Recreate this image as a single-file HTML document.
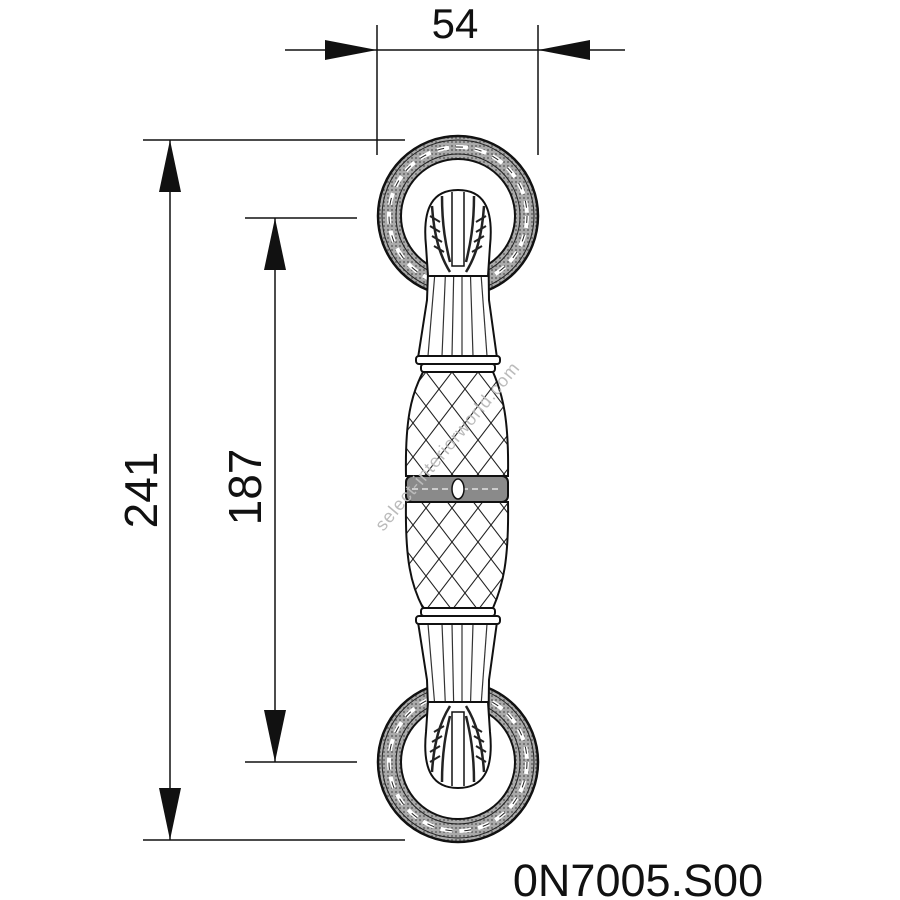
<!DOCTYPE html>
<html><head><style>
html,body{margin:0;padding:0;background:#fff;}
svg{display:block}
text{font-family:"Liberation Sans",Arial,sans-serif;}
</style></head><body>
<svg width="900" height="900" viewBox="0 0 900 900" xmlns="http://www.w3.org/2000/svg">
<defs>
<pattern id="lat" width="26" height="34" patternUnits="userSpaceOnUse" x="400" y="372">
<path d="M0 0 L26 34 M26 0 L0 34" stroke="#222" stroke-width="1.1" fill="none"/>
</pattern>
<pattern id="rope" width="4" height="4" patternUnits="userSpaceOnUse">
<rect width="4" height="4" fill="#aaa"/><circle cx="2" cy="2" r="1" fill="#666"/>
</pattern>
<g id="ros">
<circle r="80" fill="url(#rope)" stroke="#111" stroke-width="2.5"/>
<circle r="76" fill="none" stroke="#222" stroke-width="1"/>
<circle r="69" fill="none" stroke="#fff" stroke-width="4" stroke-dasharray="12 7"/>
<circle r="69" fill="none" stroke="#222" stroke-width="1" stroke-dasharray="7 12"/>
<circle r="62" fill="none" stroke="#222" stroke-width="1"/>
<circle cx="0" cy="0" r="57" fill="#fff" stroke="#111" stroke-width="2"/>
</g>
<g id="leaf">
<path d="M-32 20 C-36 -20,-24 -36,0 -36 C24 -36,36 -20,32 20 L30 50 L-30 50 Z" fill="#fff" stroke="#111" stroke-width="2"/>
<path d="M-6 -34 L-6 40 L6 40 L6 -34" stroke="#111" stroke-width="1.5" fill="#fff"/>
<path d="M-26 -20 C-24 10,-18 30,-8 46 M26 -20 C24 10,18 30,8 46 M-16 -30 C-16 0,-12 20,-8 36 M16 -30 C16 0,12 20,8 36" stroke="#222" stroke-width="2.5" fill="none"/>
<path d="M-28 -10 l10 6 M-28 0 l10 6 M-26 10 l10 6 M-24 20 l10 6 M28 -10 l-10 6 M28 0 l-10 6 M26 10 l-10 6 M24 20 l-10 6" stroke="#222" stroke-width="2"/>
</g>
</defs>

<g stroke="#111" stroke-width="1.5" fill="none">
<line x1="285" y1="50" x2="625" y2="50"/>
<line x1="377" y1="25" x2="377" y2="155"/>
<line x1="538" y1="25" x2="538" y2="155"/>
<line x1="143" y1="140" x2="405" y2="140"/>
<line x1="143" y1="840" x2="405" y2="840"/>
<line x1="170" y1="140" x2="170" y2="840"/>
<line x1="245" y1="218" x2="357" y2="218"/>
<line x1="245" y1="762" x2="357" y2="762"/>
<line x1="275" y1="218" x2="275" y2="762"/>
</g>
<g fill="#111">
<polygon points="377,50 325,40 325,60"/>
<polygon points="538,50 590,40 590,60"/>
<polygon points="170,140 159,192 181,192"/>
<polygon points="170,840 159,788 181,788"/>
<polygon points="275,218 264,270 286,270"/>
<polygon points="275,762 264,710 286,710"/>
</g>
<text x="455" y="38" font-size="42" text-anchor="middle" fill="#111">54</text>
<text transform="translate(157,490) rotate(-90)" font-size="46" text-anchor="middle" fill="#111">241</text>
<text transform="translate(261,487) rotate(-90)" font-size="46" text-anchor="middle" fill="#111">187</text>
<text x="638" y="896" font-size="45" text-anchor="middle" fill="#111">0N7005.S00</text>

<use href="#ros" x="458" y="216"/>
<use href="#ros" x="458" y="762"/>

<path d="M430 220 L488 220 L489 300 L497 358 L418 358 L427 300 Z" fill="#fff" stroke="#111" stroke-width="2"/>
<g stroke="#333" stroke-width="1.2">
<line x1="436" y1="260" x2="428" y2="356"/><line x1="446" y1="260" x2="442" y2="356"/>
<line x1="454" y1="260" x2="452" y2="356"/><line x1="462" y1="260" x2="462" y2="356"/>
<line x1="470" y1="260" x2="473" y2="356"/><line x1="480" y1="260" x2="487" y2="356"/>
</g>
<use href="#leaf" x="458" y="226"/>
<rect x="416" y="356" width="84" height="8" rx="3" fill="#fff" stroke="#111" stroke-width="2"/>
<rect x="421" y="364" width="74" height="8" rx="3" fill="#fff" stroke="#111" stroke-width="2"/>

<path d="M430 760 L488 760 L489 680 L497 622 L418 622 L427 680 Z" fill="#fff" stroke="#111" stroke-width="2"/>
<g stroke="#333" stroke-width="1.2">
<line x1="436" y1="720" x2="428" y2="624"/><line x1="446" y1="720" x2="442" y2="624"/>
<line x1="454" y1="720" x2="452" y2="624"/><line x1="462" y1="720" x2="462" y2="624"/>
<line x1="470" y1="720" x2="473" y2="624"/><line x1="480" y1="720" x2="487" y2="624"/>
</g>
<g transform="translate(458,752) scale(1,-1)"><use href="#leaf"/></g>
<rect x="416" y="616" width="84" height="8" rx="3" fill="#fff" stroke="#111" stroke-width="2"/>
<rect x="421" y="608" width="74" height="8" rx="3" fill="#fff" stroke="#111" stroke-width="2"/>

<path d="M423 372 L493 372 C503 395,509 420,508 476 L406 476 C405 420,411 395,423 372 Z" fill="url(#lat)" stroke="#111" stroke-width="2"/>
<path d="M406 502 L508 502 C509 560,503 585,493 608 L423 608 C411 585,405 560,406 502 Z" fill="url(#lat)" stroke="#111" stroke-width="2"/>
<rect x="406" y="476" width="102" height="26" rx="6" fill="#8a8a8a" stroke="#111" stroke-width="2"/>
<path d="M412 489 h90" stroke="#ccc" stroke-width="2" stroke-dasharray="6 4"/>
<ellipse cx="458" cy="489" rx="6" ry="10" fill="#fff" stroke="#111" stroke-width="1.5"/>

<text transform="translate(452,450) rotate(-50)" font-size="18" text-anchor="middle" fill="#bbb" letter-spacing="1">select-interiorworld.com</text>
</svg>
</body></html>
